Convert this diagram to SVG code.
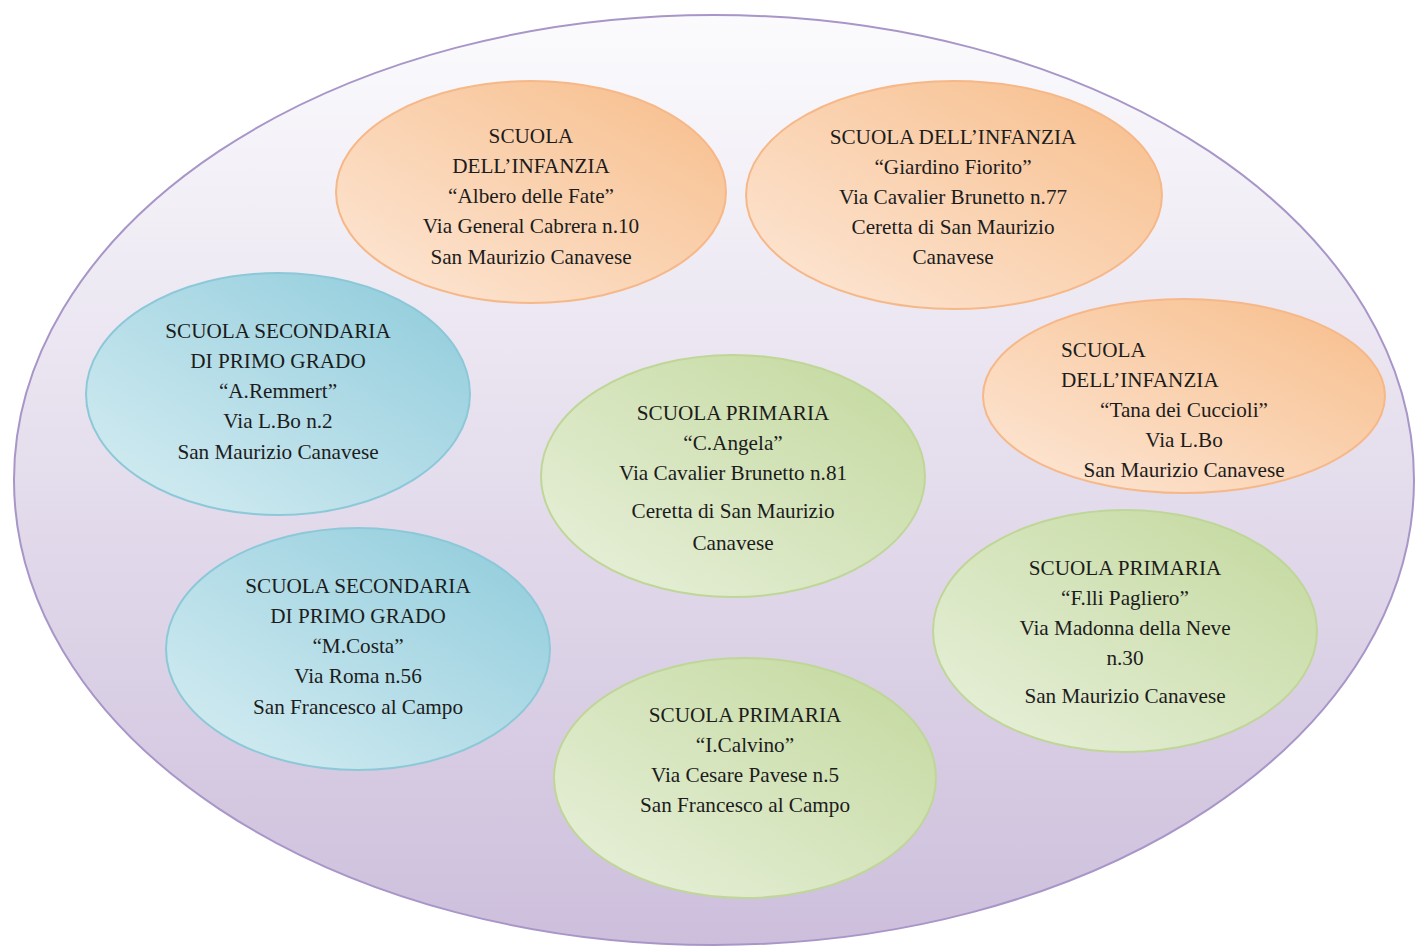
<svg xmlns="http://www.w3.org/2000/svg" width="1415" height="946" viewBox="0 0 1415 946">
<defs>
<linearGradient id="gOuter" x1="0" y1="0" x2="0" y2="1">
<stop offset="0" stop-color="#fbfbfd"/>
<stop offset="1" stop-color="#cdbfdc"/>
</linearGradient>
<linearGradient id="gOrange" x1="0" y1="1" x2="1" y2="0">
<stop offset="0" stop-color="#fde8d8"/>
<stop offset="1" stop-color="#f7bd8a"/>
</linearGradient>
<linearGradient id="gBlue" x1="0" y1="1" x2="1" y2="0">
<stop offset="0" stop-color="#d8eef3"/>
<stop offset="1" stop-color="#8ecbdb"/>
</linearGradient>
<linearGradient id="gGreen" x1="0" y1="1" x2="1" y2="0">
<stop offset="0" stop-color="#e9f1dd"/>
<stop offset="1" stop-color="#c2d89c"/>
</linearGradient>
</defs>
<style>
.outer{fill:url(#gOuter);stroke:#a896c8;stroke-width:2}
.orange{fill:url(#gOrange);stroke:#f6b888;stroke-width:2}
.blue{fill:url(#gBlue);stroke:#8dc8d8;stroke-width:2}
.green{fill:url(#gGreen);stroke:#bfd698;stroke-width:2}
text{font-family:"Liberation Serif","Times New Roman",serif;font-size:21.2px;fill:#1c1c1c;text-anchor:middle}
.l{text-anchor:start}
</style>
<rect width="1415" height="946" fill="#ffffff"/>
<g id="outer"><ellipse class="outer" cx="714" cy="480" rx="700" ry="465"/></g>
<g id="connectors"></g>
<g id="n-albero">
<ellipse class="orange" cx="531" cy="192" rx="195" ry="111"/>
<text x="531" y="143">SCUOLA</text>
<text x="531" y="173">DELL’INFANZIA</text>
<text x="531" y="203">“Albero delle Fate”</text>
<text x="531" y="233">Via General Cabrera n.10</text>
<text x="531" y="264">San Maurizio Canavese</text>
</g>
<g id="n-giardino">
<ellipse class="orange" cx="954" cy="195" rx="208" ry="114"/>
<text x="953" y="144">SCUOLA DELL’INFANZIA</text>
<text x="953" y="174">“Giardino Fiorito”</text>
<text x="953" y="204">Via Cavalier Brunetto n.77</text>
<text x="953" y="234">Ceretta di San Maurizio</text>
<text x="953" y="264">Canavese</text>
</g>
<g id="n-remmert">
<ellipse class="blue" cx="278" cy="394" rx="192" ry="121"/>
<text x="278" y="338">SCUOLA SECONDARIA</text>
<text x="278" y="368">DI PRIMO GRADO</text>
<text x="278" y="398">“A.Remmert”</text>
<text x="278" y="428">Via L.Bo n.2</text>
<text x="278" y="459">San Maurizio Canavese</text>
</g>
<g id="n-tana">
<ellipse class="orange" cx="1184" cy="396" rx="201" ry="97"/>
<text class="l" x="1061" y="357">SCUOLA</text>
<text class="l" x="1061" y="387">DELL’INFANZIA</text>
<text x="1184" y="417">“Tana dei Cuccioli”</text>
<text x="1184" y="447">Via L.Bo</text>
<text x="1184" y="477">San Maurizio Canavese</text>
</g>
<g id="n-angela">
<ellipse class="green" cx="733" cy="476" rx="192" ry="121"/>
<text x="733" y="420">SCUOLA PRIMARIA</text>
<text x="733" y="450">“C.Angela”</text>
<text x="733" y="480">Via Cavalier Brunetto n.81</text>
<text x="733" y="518">Ceretta di San Maurizio</text>
<text x="733" y="550">Canavese</text>
</g>
<g id="n-costa">
<ellipse class="blue" cx="358" cy="649" rx="192" ry="121"/>
<text x="358" y="593">SCUOLA SECONDARIA</text>
<text x="358" y="623">DI PRIMO GRADO</text>
<text x="358" y="653">“M.Costa”</text>
<text x="358" y="683">Via Roma n.56</text>
<text x="358" y="714">San Francesco al Campo</text>
</g>
<g id="n-pagliero">
<ellipse class="green" cx="1125" cy="631" rx="192" ry="121"/>
<text x="1125" y="575">SCUOLA PRIMARIA</text>
<text x="1125" y="605">“F.lli Pagliero”</text>
<text x="1125" y="635">Via Madonna della Neve</text>
<text x="1125" y="665">n.30</text>
<text x="1125" y="703">San Maurizio Canavese</text>
</g>
<g id="n-calvino">
<ellipse class="green" cx="745" cy="778" rx="191" ry="120"/>
<text x="745" y="722">SCUOLA PRIMARIA</text>
<text x="745" y="752">“I.Calvino”</text>
<text x="745" y="782">Via Cesare Pavese n.5</text>
<text x="745" y="812">San Francesco al Campo</text>
</g>
</svg>
